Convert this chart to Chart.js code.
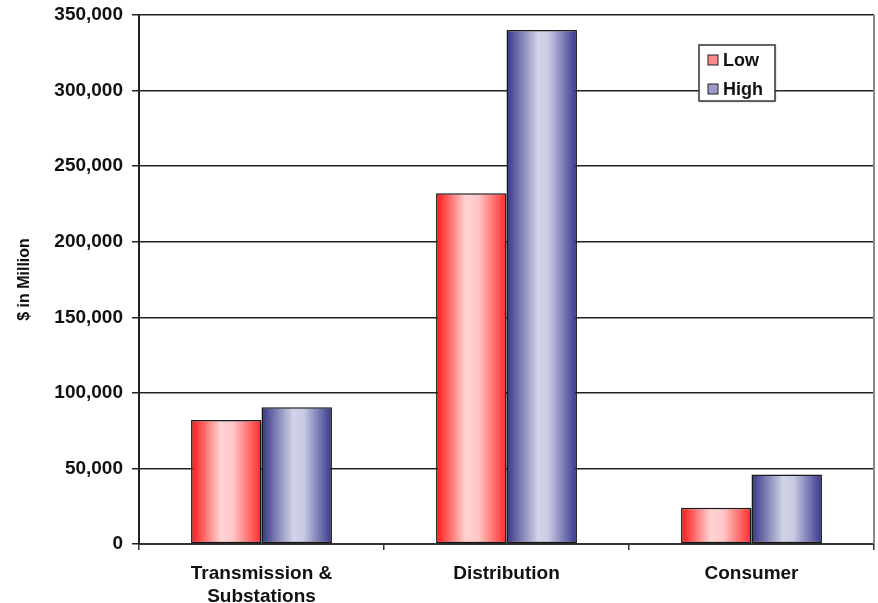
<!DOCTYPE html>
<html>
<head>
<meta charset="utf-8">
<script src="https://cdn.jsdelivr.net/npm/chart.js@4/dist/chart.umd.min.js"></script>
<style>
  html, body { margin: 0; padding: 0; background: #fff; }
  #wrap { width: 878px; height: 603px; }
</style>
</head>
<body>
<div id="wrap"><canvas id="bar-chart" width="878" height="603"></canvas></div>
<script>
const categories = [["Transmission &", "Substations"], "Distribution", "Consumer"];
const seriesNames = ["Low", "High"];
const lowValues = [82000, 232000, 24000];
const highValues = [90500, 340000, 46000];
const yTicks = [0, 50000, 100000, 150000, 200000, 250000, 300000, 350000];

const FONT = "'Liberation Sans', Arial, sans-serif";
const CAT_PCT = 0.575;

// horizontal shading per bar, like the old office charts
const gradStops = [
  [[0, "#ff1414"], [0.42, "#ffd4d4"], [0.6, "#ffc6c6"], [1, "#ff2a2a"]],
  [[0, "#353585"], [0.45, "#d2d4e8"], [0.6, "#c8cae2"], [1, "#36368c"]],
];
const legendColors = ["#ff8c8c", "#9a9ccc"];

const barFill = (context) => {
  const { chart, datasetIndex, dataIndex } = context;
  const { ctx, chartArea, scales } = chart;
  if (!chartArea) return gradStops[datasetIndex][1][1];
  const center = scales.x.getPixelForValue(dataIndex);
  const w = (scales.x.width / categories.length) * CAT_PCT / 2;
  const left = datasetIndex === 0 ? center - w : center;
  const g = ctx.createLinearGradient(left, 0, left + w, 0);
  gradStops[datasetIndex].forEach(([p, c]) => g.addColorStop(p, c));
  return g;
};

const barShadow = {
  id: "barShadow",
  beforeDatasetsDraw(chart) {
    const ctx = chart.ctx;
    ctx.save();
    ctx.shadowColor = "rgba(0,0,0,0.35)";
    ctx.shadowBlur = 3;
    ctx.shadowOffsetX = 2;
    ctx.shadowOffsetY = 2;
  },
  afterDatasetsDraw(chart) {
    chart.ctx.restore();
  },
};

const rightEdge = {
  id: "rightEdge",
  beforeDatasetsDraw(chart) {
    const { ctx, chartArea } = chart;
    ctx.save();
    ctx.strokeStyle = "#888";
    ctx.lineWidth = 2;
    ctx.beginPath();
    ctx.moveTo(chartArea.right, chartArea.top);
    ctx.lineTo(chartArea.right, chartArea.bottom);
    ctx.stroke();
    ctx.restore();
  },
};

const boxLegend = {
  id: "boxLegend",
  afterDraw(chart) {
    const ctx = chart.ctx;
    const x = 699, y = 45, w = 76, h = 56;
    ctx.save();
    ctx.shadowColor = "rgba(0,0,0,0.25)";
    ctx.shadowBlur = 2;
    ctx.shadowOffsetX = 1;
    ctx.shadowOffsetY = 1;
    ctx.fillStyle = "#fff";
    ctx.fillRect(x, y, w, h);
    ctx.shadowColor = "transparent";
    ctx.strokeStyle = "#333";
    ctx.lineWidth = 1.5;
    ctx.strokeRect(x, y, w, h);
    ctx.font = "bold 18px " + FONT;
    ctx.textBaseline = "middle";
    seriesNames.forEach((name, i) => {
      const cy = y + 15 + i * 29;
      ctx.fillStyle = legendColors[i];
      ctx.fillRect(x + 9, cy - 5, 10, 10);
      ctx.strokeStyle = "#222";
      ctx.lineWidth = 1;
      ctx.strokeRect(x + 9, cy - 5, 10, 10);
      ctx.fillStyle = "#111";
      ctx.fillText(name, x + 24, cy + 1);
    });
    ctx.restore();
  },
};

new Chart(document.getElementById("bar-chart"), {
  type: "bar",
  data: {
    labels: categories,
    datasets: [
      { label: seriesNames[0], data: lowValues },
      { label: seriesNames[1], data: highValues },
    ].map((d) => ({
      ...d,
      backgroundColor: barFill,
      borderColor: "#1a1a1a",
      borderWidth: 1.5,
      borderSkipped: false,
      categoryPercentage: CAT_PCT,
      barPercentage: 1,
    })),
  },
  options: {
    responsive: false,
    animation: false,
    layout: { padding: { top: 15, right: 4, left: 15, bottom: 0 } },
    plugins: { legend: { display: false }, tooltip: { enabled: false } },
    scales: {
      x: {
        offset: true,
        grid: {
          drawOnChartArea: false,
          drawTicks: true,
          tickLength: 6,
          color: "#333",
          lineWidth: 1.5,
        },
        border: { color: "#333", width: 2 },
        ticks: {
          color: "#111",
          font: { family: FONT, size: 19, weight: "bold", lineHeight: 1.21 },
          padding: 12,
          maxRotation: 0,
        },
        afterFit: (s) => { s.height = 59; },
      },
      y: {
        min: 0,
        max: 350000,
        afterBuildTicks: (s) => { s.ticks = yTicks.map((v) => ({ value: v })); },
        grid: { color: "#222", lineWidth: 1.5, tickLength: 7 },
        border: { color: "#222", width: 2 },
        ticks: {
          color: "#111",
          padding: 9,
          font: { family: FONT, size: 19, weight: "bold" },
          callback: (v) => v.toLocaleString("en-US"),
        },
        title: {
          display: true,
          text: "$ in Million",
          color: "#111",
          font: { family: FONT, size: 16, weight: "bold" },
          padding: 0,
        },
        afterFit: (s) => {
          s.width = 124;
          s.paddingTop = 0;
          s.paddingBottom = 0;
        },
      },
    },
  },
  plugins: [rightEdge, barShadow, boxLegend],
});
</script>
</body>
</html>
